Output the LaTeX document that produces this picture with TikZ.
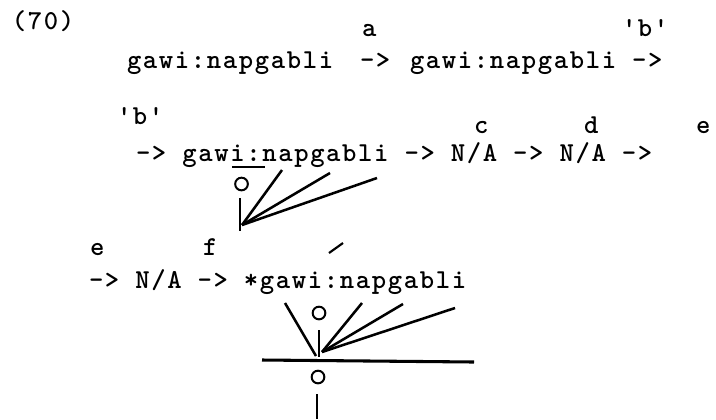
\documentclass[tikz,border=0pt]{standalone}
\usepackage{fontspec}
\newfontfamily\tw{lmmonolt10-bold}[Extension=.otf,LetterSpace=6]
\begin{document}
\begin{tikzpicture}[x=0.75pt,y=-0.75pt,
  txt/.style={inner sep=0pt,outer sep=0pt,anchor=base west,font=\tw\fontsize{20.5}{24}\selectfont},
  ring/.style={draw,circle,line width=1.5pt,inner sep=0pt,minimum size=9.5pt},
  fan/.style={line width=1.9pt},
  ul/.style={line width=1.6pt},
  bar/.style={line width=2.3pt}]
\useasboundingbox (0,0) rectangle (716,419);
% first line
\node[txt] (n70) at (12,29) {(70)};
\node[txt] (la) at (362,36) {a};
\node[txt] (lb1) at (622,36) {'b'};
\node[txt] (w1) at (127,68) {gawi:napgabli};
\node[txt] (r1) at (360,68) {->};
\node[txt] (w2) at (410,68) {gawi:napgabli ->};
% second line
\node[txt] (lb2) at (117,124) {'b'};
\node[txt] (lc) at (474,133) {c};
\node[txt] (ld) at (584,133) {d};
\node[txt] (le1) at (696,133) {e};
\node[txt] (l2) at (136,161) {-> gawi:napgabli -> N/A -> N/A ->};
\coordinate (u1) at (232,167);
\coordinate (u2) at (265,167);
\draw[ul] (u1) -- (u2);
% first fan
\node[ring] (o1) at (241.5,184) {};
\coordinate (v1t) at (240,198);
\coordinate (v1b) at (240,231);
\coordinate (p1) at (242,225);
\coordinate (t11) at (282,170);
\coordinate (t12) at (330,173);
\coordinate (t13) at (377,178);
\draw[fan] (v1t) -- (v1b);
\draw[fan] (t11) -- (p1);
\draw[fan] (t12) -- (p1);
\draw[fan] (t13) -- (p1);
% third line
\node[txt] (le2) at (90,255) {e};
\node[txt] (lf) at (203,255) {f};
\coordinate (ac1) at (329,253);
\coordinate (ac2) at (343,243);
\draw[ul] (ac1) -- (ac2);
\node[txt] (l3) at (89,288) {-> N/A -> *gawi:napgabli};
% second fan
\node[ring] (o2) at (319,313) {};
\coordinate (s1) at (285,303);
\coordinate (s1b) at (316,356);
\draw[fan] (s1) -- (s1b);
\coordinate (v2t) at (319,330);
\coordinate (v2b) at (319,357);
\draw[fan] (v2t) -- (v2b);
\coordinate (p2) at (322,352);
\coordinate (t21) at (362,303);
\coordinate (t22) at (403,304);
\coordinate (t23) at (455,308);
\draw[fan] (t21) -- (p2);
\draw[fan] (t22) -- (p2);
\draw[fan] (t23) -- (p2);
\coordinate (h1) at (262,360);
\coordinate (h2) at (474,362);
\draw[bar] (h1) -- (h2);
\node[ring] (o3) at (318,377) {};
\coordinate (v3t) at (317,394);
\coordinate (v3b) at (317,419);
\draw[fan] (v3t) -- (v3b);
\end{tikzpicture}
\end{document}
